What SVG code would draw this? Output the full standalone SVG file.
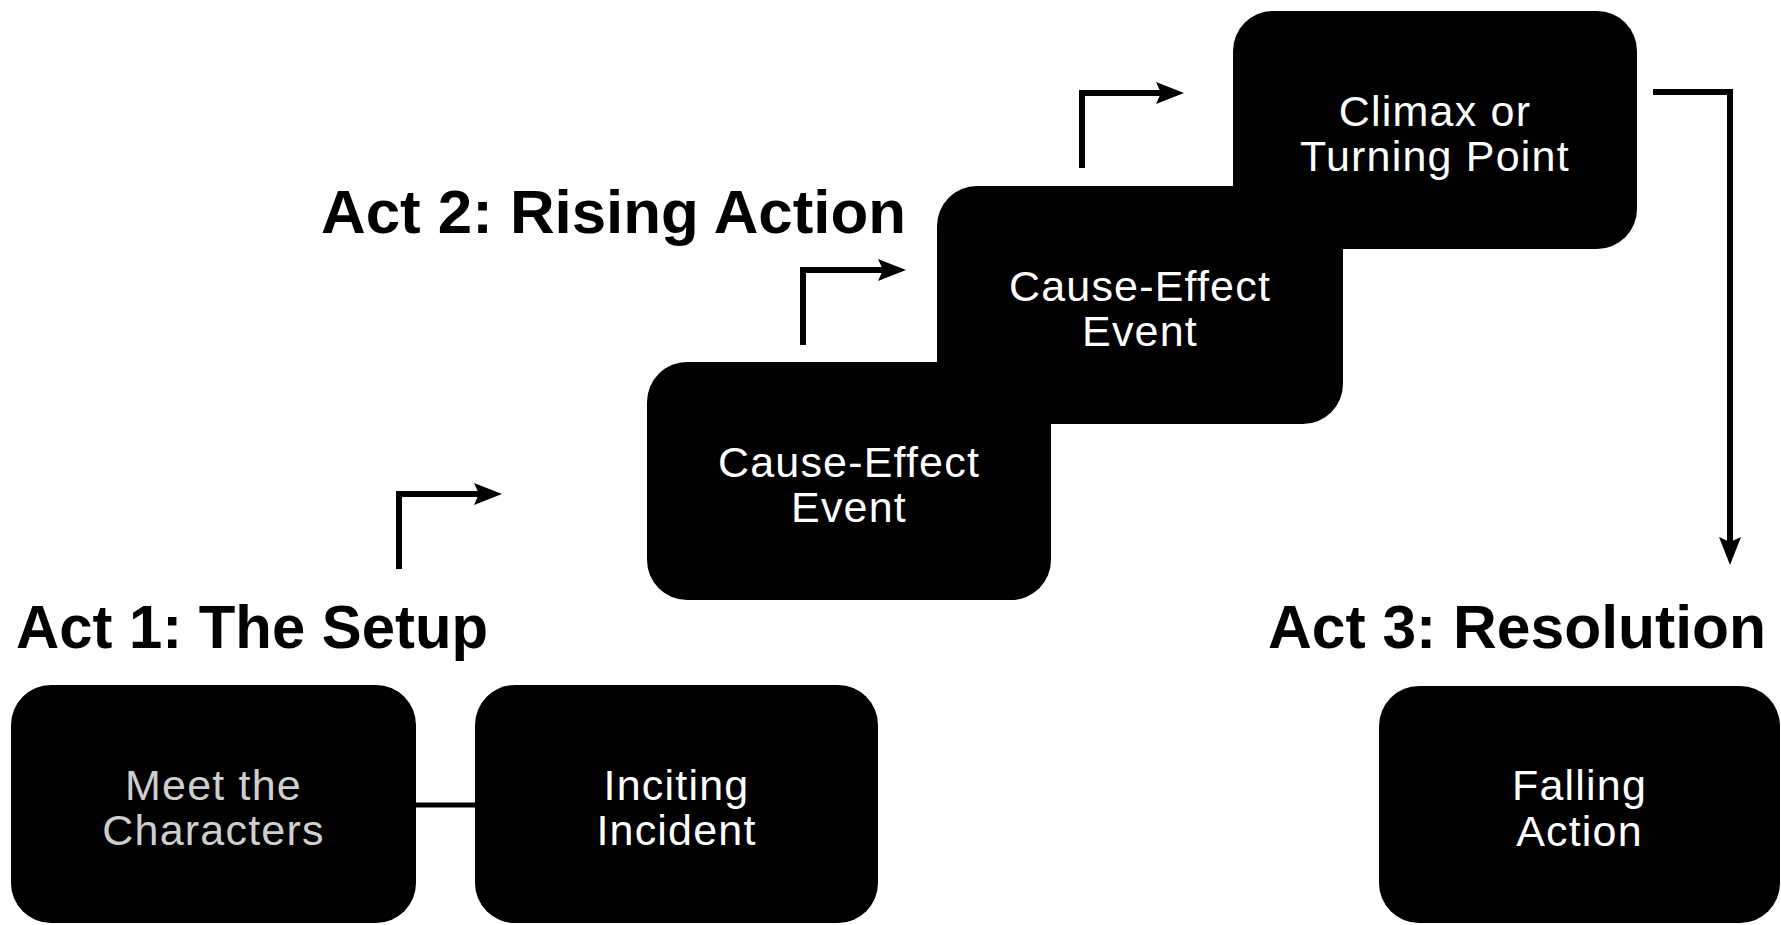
<svg xmlns="http://www.w3.org/2000/svg" width="1781" height="925" viewBox="0 0 1781 925">
  <style>
    .box { fill: #000; }
    .lbl { font-family: "Liberation Sans", Arial, sans-serif; font-size: 43px; fill: #fff; text-anchor: middle; letter-spacing: 1.2px; }
    .faded { fill: #cfcfcf; }
    .title { font-family: "Liberation Sans", Arial, sans-serif; font-size: 61px; font-weight: bold; fill: #000; }
    .conn { fill: none; stroke: #000; stroke-width: 6; stroke-linejoin: miter; stroke-linecap: butt; }
  </style>
  <defs>
    <marker id="ah" markerUnits="userSpaceOnUse" markerWidth="30" markerHeight="24" refX="14" refY="11" orient="auto">
      <path d="M0,0 L28,11 L0,22 L5,11 z" fill="#000"/>
    </marker>
  </defs>
  <rect width="1781" height="925" fill="#fff"/>

  <g id="titles">
    <text class="title" x="16" y="648" textLength="472" lengthAdjust="spacingAndGlyphs">Act 1: The Setup</text>
    <text class="title" x="321" y="233" textLength="585" lengthAdjust="spacingAndGlyphs">Act 2: Rising Action</text>
    <text class="title" x="1268" y="648" textLength="498" lengthAdjust="spacingAndGlyphs">Act 3: Resolution</text>
  </g>

  <g id="connectors">
    <line x1="414" y1="805" x2="477" y2="805" stroke="#000" stroke-width="5"/>
    <path class="conn" d="M399,569 V494 H488" marker-end="url(#ah)"/>
    <path class="conn" d="M803,345 V270 H892" marker-end="url(#ah)"/>
    <path class="conn" d="M1082,168 V93 H1170" marker-end="url(#ah)"/>
    <path class="conn" d="M1653,92 H1730 V551" marker-end="url(#ah)"/>
  </g>

  <g id="node-meet">
    <rect class="box" x="11" y="685" width="405" height="238" rx="40"/>
    <text class="lbl faded" x="213.5" y="800">Meet the</text>
    <text class="lbl faded" x="213.5" y="845">Characters</text>
  </g>
  <g id="node-inciting">
    <rect class="box" x="475" y="685" width="403" height="238" rx="40"/>
    <text class="lbl" x="676.5" y="800">Inciting</text>
    <text class="lbl" x="676.5" y="845">Incident</text>
  </g>
  <g id="node-cause1">
    <rect class="box" x="647" y="362" width="404" height="238" rx="40"/>
    <text class="lbl" x="849" y="477">Cause-Effect</text>
    <text class="lbl" x="849" y="522">Event</text>
  </g>
  <g id="node-cause2">
    <rect class="box" x="937" y="186" width="406" height="238" rx="40"/>
    <text class="lbl" x="1140" y="301">Cause-Effect</text>
    <text class="lbl" x="1140" y="346">Event</text>
  </g>
  <g id="node-climax">
    <rect class="box" x="1233" y="11" width="404" height="238" rx="40"/>
    <text class="lbl" x="1435" y="126">Climax or</text>
    <text class="lbl" x="1435" y="171">Turning Point</text>
  </g>
  <g id="node-falling">
    <rect class="box" x="1379" y="686" width="401" height="237" rx="40"/>
    <text class="lbl" x="1579.5" y="800">Falling</text>
    <text class="lbl" x="1579.5" y="846">Action</text>
  </g>
</svg>
